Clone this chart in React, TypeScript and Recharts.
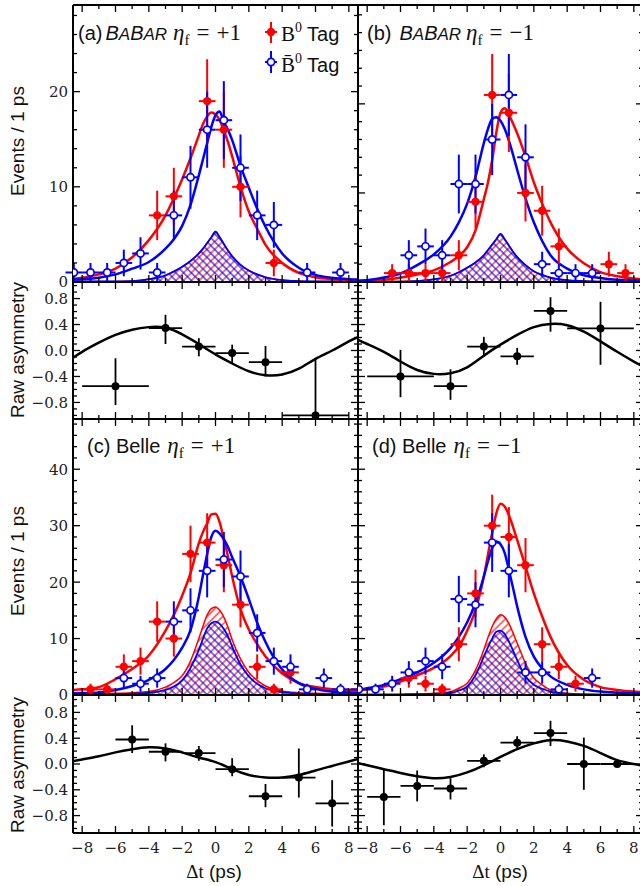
import React from 'react';
import { ComposedChart, Line, Area, Scatter, ErrorBar, XAxis, YAxis } from 'recharts';

// Δt axis (ps)
const X_DOMAIN: [number, number] = [-8.55, 8.55];
const X_TICKS = [-8, -7, -6, -5, -4, -3, -2, -1, 0, 1, 2, 3, 4, 5, 6, 7, 8];
const X_LABELS = [-8, -6, -4, -2, 0, 2, 4, 6, 8];

// y axes
const EV_TICKS_TOP = [0, 2, 4, 6, 8, 10, 12, 14, 16, 18, 20, 22, 24, 26, 28, 30];
const EV_LABELS_TOP = [0, 10, 20];
const EV_TICKS_BOT = [0, 2, 4, 6, 8, 10, 12, 14, 16, 18, 20, 22, 24, 26, 28, 30, 32, 34, 36, 38, 40, 42, 44, 46, 48];
const EV_LABELS_BOT = [0, 10, 20, 30, 40];
const ASYM_TICKS = [-1, -0.9, -0.8, -0.7, -0.6, -0.5, -0.4, -0.3, -0.2, -0.1, 0, 0.1, 0.2, 0.3, 0.4, 0.5, 0.6, 0.7, 0.8, 0.9, 1];
const ASYM_LABELS = [-0.8, -0.4, 0, 0.4, 0.8];

// x grids for the fitted curves
const GRID = [-8.6, -8, -7, -6, -5, -4, -3, -2.5, -2, -1.5, -1, -0.75, -0.5, -0.25, 0, 0.25, 0.5, 0.75, 1, 1.5, 2, 2.5, 3, 4, 5, 6, 7, 8, 8.6];
const BKG_GRID = [-8.6, -6, -5, -4, -3, -2.5, -2, -1.5, -1, -0.75, -0.5, -0.25, 0, 0.25, 0.5, 0.75, 1, 1.5, 2, 2.5, 3, 4, 5, 6, 8.6];
const ASYM_GRID = [-8.6, -8, -7, -6, -5, -4, -3, -2, -1, 0, 1, 2, 3, 4, 5, 6, 7, 8, 8.6];

// statistical error read per bin content
const ERR: Record<number, number> = {
  1: 1.0, 2: 1.4, 3: 1.7, 4: 2.0, 5: 2.2, 6: 2.4, 7: 2.6, 8: 2.8, 9: 3.0, 10: 3.2, 11: 3.3, 12: 3.5,
  13: 3.6, 14: 3.7, 15: 3.9, 16: 4.0, 17: 4.1, 18: 4.2, 19: 4.4, 21: 4.6, 22: 4.7, 23: 4.8, 24: 4.9,
  25: 5.0, 27: 5.2, 28: 5.3, 30: 5.5,
};

// (a) BABAR eta_f = +1
const aRedPts = [[-3.5, 7], [-2.5, 9], [-0.5, 19], [0.5, 16], [1.5, 10], [3.5, 2]];
const aBluePts = [[-8.5, 1], [-7.5, 1], [-6.5, 1], [-5.5, 2], [-4.5, 3], [-3.5, 1], [-2.5, 7], [-1.5, 11], [-0.5, 16], [0.5, 17], [1.5, 12], [2.5, 7], [3.5, 6], [5.5, 1], [7.5, 1]];
const aRedFit = [0.3, 0.45, 0.8, 1.4, 2.6, 4.4, 7.0, 8.8, 10.8, 13.0, 15.4, 16.6, 17.4, 17.8, 17.6, 17.0, 15.9, 14.7, 13.2, 10.0, 7.4, 5.6, 3.9, 2.0, 0.95, 0.5, 0.3, 0.2, 0.18];
const aBlueFit = [0.25, 0.3, 0.45, 0.8, 1.4, 2.1, 3.5, 4.5, 5.9, 8.1, 11.2, 12.9, 14.6, 16.3, 17.5, 17.9, 16.8, 16.0, 14.9, 12.2, 9.9, 7.7, 5.8, 3.0, 1.5, 0.75, 0.45, 0.3, 0.25];
const aBkg = [0.05, 0.05, 0.1, 0.3, 0.7, 1.1, 1.6, 2.2, 3.0, 3.5, 4.1, 4.7, 5.3, 4.7, 4.0, 3.3, 2.7, 1.8, 1.2, 0.8, 0.5, 0.2, 0.1, 0.05, 0.05];
const aAsymPts = [[-6, -0.55, 2, 0.29, 0.43], [-3, 0.345, 1, 0.245, 0.205], [-1, 0.06, 1, 0.15, 0.13], [1, -0.04, 1, 0.15, 0.13], [3, -0.18, 1, 0.22, 0.25], [6, -1.0, 2, 0, 0.86]];
const aAsymFit = [-0.12, -0.02, 0.12, 0.24, 0.32, 0.36, 0.35, 0.25, 0.1, -0.06, -0.2, -0.32, -0.38, -0.37, -0.28, -0.13, 0.0, 0.14, 0.21];

// (b) BABAR eta_f = -1
const bRedPts = [[-6.5, 1], [-5.5, 1], [-4.5, 1], [-3.5, 1], [-2.5, 3], [-1.5, 9], [-0.5, 21], [0.5, 19], [1.5, 10], [2.5, 8], [3.5, 4], [6.5, 2], [7.5, 1]];
const bBluePts = [[-5.5, 3], [-4.5, 4], [-3.5, 3], [-2.5, 11], [-1.5, 11], [-0.5, 16], [0.5, 21], [1.5, 14], [2.5, 2], [3.5, 1], [4.5, 1], [5.5, 1]];
const bRedFit = [0.1, 0.2, 0.25, 0.5, 0.85, 1.3, 2.25, 2.9, 3.9, 5.8, 9.3, 11.2, 13.7, 16.8, 19.0, 19.5, 18.8, 17.8, 16.7, 14.1, 11.2, 8.8, 6.7, 3.75, 2.1, 1.1, 0.65, 0.4, 0.25];
const bBlueFit = [0.15, 0.2, 0.5, 0.95, 1.9, 3.1, 5.1, 6.7, 8.8, 11.8, 15.6, 17.2, 18.3, 18.5, 18.1, 17.2, 15.9, 14.3, 12.6, 9.4, 6.7, 4.6, 3.0, 1.5, 0.75, 0.45, 0.25, 0.2, 0.15];
const bBkg = [0.05, 0.05, 0.1, 0.3, 0.7, 1.1, 1.6, 2.2, 3.0, 3.6, 4.2, 4.8, 5.4, 4.8, 4.1, 3.4, 2.8, 1.9, 1.2, 0.8, 0.5, 0.2, 0.1, 0.05, 0.05];
const bAsymPts = [[-6, -0.4, 2, 0.32, 0.41], [-3, -0.55, 1, 0.21, 0.26], [-1, 0.06, 1, 0.16, 0.15], [1, -0.09, 1, 0.13, 0.13], [3, 0.61, 1, 0.32, 0.21], [6, 0.34, 2, 0.56, 0.41]];
const bAsymFit = [0.17, 0.1, -0.02, -0.17, -0.3, -0.36, -0.35, -0.26, -0.08, 0.09, 0.24, 0.36, 0.41, 0.39, 0.29, 0.14, -0.02, -0.17, -0.25];

// (c) Belle eta_f = +1
const cRedPts = [[-7.5, 1], [-6.5, 1], [-5.5, 5], [-4.5, 6], [-3.5, 13], [-2.5, 10], [-1.5, 25], [-0.5, 27], [0.5, 23], [1.5, 16], [2.5, 5], [3.5, 1], [4.5, 4]];
const cBluePts = [[-5.5, 3], [-4.5, 2], [-3.5, 3], [-2.5, 13], [-1.5, 15], [-0.5, 22], [0.5, 24], [1.5, 21], [2.5, 11], [3.5, 6], [4.5, 5], [5.5, 1], [6.5, 3], [7.5, 1]];
const cRedFit = [0.9, 1.0, 1.4, 2.8, 4.6, 7.0, 11.4, 14.2, 17.6, 21.6, 26.9, 28.9, 30.4, 32.0, 32.1, 30.6, 27.6, 24.5, 21.0, 15.2, 11.6, 9.0, 6.8, 3.8, 2.1, 1.4, 1.0, 0.85, 0.8];
const cBlueFit = [0.3, 0.35, 0.45, 0.9, 1.6, 2.7, 4.6, 6.2, 8.4, 11.5, 17.4, 21.3, 25.0, 28.0, 29.1, 28.6, 27.6, 26.2, 24.4, 21.0, 17.0, 12.8, 9.4, 4.5, 2.1, 1.1, 0.6, 0.45, 0.4];
const cRedBkg = [0.2, 0.3, 0.4, 0.6, 1.4, 2.2, 3.4, 6.0, 10.0, 12.2, 14.2, 15.3, 15.6, 15.0, 13.8, 12.0, 9.8, 6.4, 4.0, 2.6, 1.6, 0.7, 0.4, 0.3, 0.2];
const cBlueBkg = [0.1, 0.15, 0.25, 0.4, 0.9, 1.5, 2.6, 4.8, 8.0, 10.0, 11.8, 12.7, 13.0, 12.6, 11.7, 10.4, 8.6, 5.4, 3.3, 2.0, 1.2, 0.5, 0.25, 0.15, 0.1];
const cAsymPts = [[-5, 0.38, 1, 0.21, 0.22], [-3, 0.19, 1, 0.15, 0.13], [-1, 0.17, 1, 0.12, 0.11], [1, -0.08, 1, 0.11, 0.17], [3, -0.5, 1, 0.17, 0.19], [5, -0.21, 1, 0.31, 0.45], [7, -0.61, 1, 0.36, 0.36]];
const cAsymFit = [0.04, 0.07, 0.12, 0.18, 0.23, 0.26, 0.24, 0.18, 0.1, 0.03, -0.08, -0.17, -0.21, -0.21, -0.17, -0.1, -0.03, 0.04, 0.08];

// (d) Belle eta_f = -1
const dRedPts = [[-8.5, 1], [-5.5, 3], [-4.5, 2], [-3.5, 1], [-2.5, 9], [-1.5, 18], [-0.5, 30], [0.5, 28], [1.5, 23], [2.5, 9], [3.5, 5], [4.5, 2]];
const dBluePts = [[-8.5, 1], [-7.5, 1], [-6.5, 2], [-5.5, 4], [-4.5, 6], [-3.5, 5], [-2.5, 17], [-1.5, 16], [-0.5, 27], [0.5, 22], [1.5, 4], [2.5, 4], [3.5, 1], [5.5, 3]];
const dRedFit = [0.9, 1.0, 1.5, 2.4, 3.5, 4.8, 6.9, 8.6, 11.4, 15.1, 21.0, 24.9, 28.7, 32.2, 33.9, 33.4, 31.9, 29.8, 27.5, 22.8, 18.0, 13.9, 10.3, 5.3, 2.7, 1.4, 0.9, 0.6, 0.5];
const dBlueFit = [0.9, 1.2, 1.8, 2.8, 4.0, 5.7, 8.3, 10.3, 12.9, 16.3, 21.0, 23.7, 26.0, 27.2, 26.7, 25.2, 22.2, 19.0, 15.7, 10.3, 6.8, 4.7, 3.3, 1.8, 1.0, 0.6, 0.4, 0.3, 0.25];
const dRedBkg = [0.1, 0.15, 0.2, 0.3, 0.6, 1.2, 2.1, 4.4, 8.0, 10.2, 12.1, 13.5, 14.2, 13.8, 12.7, 11.0, 9.2, 5.6, 3.0, 1.8, 0.9, 0.3, 0.15, 0.1, 0.1];
const dBlueBkg = [0.05, 0.08, 0.1, 0.2, 0.4, 0.8, 1.5, 3.5, 6.8, 8.5, 10.0, 11.2, 11.4, 10.8, 9.5, 7.9, 6.2, 3.3, 1.8, 1.1, 0.6, 0.2, 0.1, 0.08, 0.05];
const dAsymPts = [[-7, -0.51, 1, 0.44, 0.44], [-5, -0.34, 1, 0.24, 0.24], [-3, -0.38, 1, 0.17, 0.16], [-1, 0.05, 1, 0.1, 0.1], [1, 0.33, 1, 0.11, 0.1], [3, 0.48, 1, 0.2, 0.19], [5, 0.0, 1, 0.4, 0.41], [7, 0.0, 1, 0, 0]];
const dAsymFit = [0.02, -0.02, -0.08, -0.14, -0.19, -0.22, -0.2, -0.13, -0.02, 0.11, 0.23, 0.32, 0.37, 0.35, 0.28, 0.17, 0.06, 0.0, -0.03];

const RED = '#ff0000';
const BLUE = '#0000ff';
const SANS = "'Liberation Sans', Arial, sans-serif";
const SERIF = "'Liberation Serif', 'Times New Roman', serif";
const TICK_FONT = { fontFamily: "'DejaVu Serif', serif", fontSize: 15, fill: '#222' };

// outer space around each plot box; axes take 1px each so the box lands on (x, y)
const PAD = { top: 20, right: 20, bottom: 50, left: 80 };
const M = { top: PAD.top - 1, right: PAD.right - 1, bottom: PAD.bottom - 1, left: PAD.left - 1 };
const AXIS_LINE = { stroke: '#000', strokeWidth: 2 };

const zipXY = (xs: number[], ys: number[]) => xs.map((x, i) => ({ x, y: ys[i] }));
const toPts = (arr: number[][]) => arr.map(([x, n]) => ({ x, y: n, ex: 0.5, ey: ERR[n] }));
const toAsym = (arr: number[][]) => arr.map(([x, y, ex, lo, hi]) => ({ x, y, ex, ey: [lo, hi] }));

const fmtInt = (v: number) => (v < 0 ? '\u2212' + Math.abs(v) : String(v));
const fmtAsym = (v: number) => (v < -1e-9 ? '\u2212' : '') + Math.abs(v).toFixed(1);

function makeTick(side: string, majors: number[], fmt: ((v: number) => string) | null) {
  return (props: any) => {
    const { x, y, payload } = props;
    const v = payload.value;
    const major = majors.some((m) => Math.abs(m - v) < 1e-6);
    const len = major ? 7 : 4;
    const d = side === 'left' ? [len, 0] : side === 'right' ? [-len, 0] : side === 'top' ? [0, len] : [0, -len];
    return (
      <g>
        <line x1={x} y1={y} x2={x + d[0]} y2={y + d[1]} stroke="#000" strokeWidth={1.3} />
        {fmt && major && side === 'left' && (
          <text x={x - 5} y={y} dy="0.36em" textAnchor="end" style={TICK_FONT}>{fmt(v)}</text>
        )}
        {fmt && major && side === 'bottom' && (
          <text x={x} y={y + 20} textAnchor="middle" style={TICK_FONT}>{fmt(v)}</text>
        )}
      </g>
    );
  };
}

function Panel({ x, y, w, h, yDomain, yTicks, yMajors, yFmt, xFmt, children }: any) {
  return (
    <div style={{ position: 'absolute', left: x - PAD.left, top: y - PAD.top }}>
      <ComposedChart width={w + PAD.left + PAD.right} height={h + PAD.top + PAD.bottom} margin={M}>
        <XAxis xAxisId="b" orientation="bottom" type="number" dataKey="x" domain={X_DOMAIN} ticks={X_TICKS}
          interval={0} allowDataOverflow height={1} tickSize={0} tickMargin={0} tickLine={false}
          axisLine={AXIS_LINE} tick={makeTick('bottom', X_LABELS, xFmt)} />
        <XAxis xAxisId="t" orientation="top" type="number" dataKey="x" domain={X_DOMAIN} ticks={X_TICKS}
          interval={0} allowDataOverflow height={1} tickSize={0} tickMargin={0} tickLine={false}
          axisLine={AXIS_LINE} tick={makeTick('top', X_LABELS, null)} />
        <YAxis yAxisId="l" orientation="left" type="number" dataKey="y" domain={yDomain} ticks={yTicks}
          interval={0} allowDataOverflow width={1} tickSize={0} tickMargin={0} tickLine={false}
          axisLine={AXIS_LINE} tick={makeTick('left', yMajors, yFmt)} />
        <YAxis yAxisId="r" orientation="right" type="number" dataKey="y" domain={yDomain} ticks={yTicks}
          interval={0} allowDataOverflow width={1} tickSize={0} tickMargin={0} tickLine={false}
          axisLine={AXIS_LINE} tick={makeTick('right', yMajors, null)} />
        {children}
      </ComposedChart>
    </div>
  );
}

const redDot = (p: any) => <circle cx={p.cx} cy={p.cy} r={4.2} fill={RED} />;
const blueDot = (p: any) => <circle cx={p.cx} cy={p.cy} r={3.6} fill="#fff" stroke={BLUE} strokeWidth={1.7} />;
const blackDot = (p: any) => <circle cx={p.cx} cy={p.cy} r={4} fill="#000" />;

function hatchDefs(id: string) {
  return (
    <defs key="defs">
      <pattern id={`hr-${id}`} patternUnits="userSpaceOnUse" width={5.5} height={5.5} patternTransform="rotate(45)">
        <line x1={2.75} y1={0} x2={2.75} y2={5.5} stroke={RED} strokeWidth={1.1} />
      </pattern>
      <pattern id={`hb-${id}`} patternUnits="userSpaceOnUse" width={5.5} height={5.5} patternTransform="rotate(-45)">
        <line x1={2.75} y1={0} x2={2.75} y2={5.5} stroke={BLUE} strokeWidth={1.1} />
      </pattern>
    </defs>
  );
}

function eventSeries(id: string, redPts: number[][], bluePts: number[][], redFit: number[], blueFit: number[], redBkg: number[], blueBkg: number[]) {
  return [
    hatchDefs(id),
    <Area key="rb" data={zipXY(BKG_GRID, redBkg)} dataKey="y" xAxisId="b" yAxisId="l" type="monotone"
      stroke={RED} strokeWidth={1.5} fill={`url(#hr-${id})`} fillOpacity={1} isAnimationActive={false} dot={false} activeDot={false} />,
    <Area key="bb" data={zipXY(BKG_GRID, blueBkg)} dataKey="y" xAxisId="b" yAxisId="l" type="monotone"
      stroke={BLUE} strokeWidth={1.8} fill={`url(#hb-${id})`} fillOpacity={1} isAnimationActive={false} dot={false} activeDot={false} />,
    <Line key="rf" data={zipXY(GRID, redFit)} dataKey="y" xAxisId="b" yAxisId="l" type="monotone"
      stroke={RED} strokeWidth={2.5} dot={false} activeDot={false} isAnimationActive={false} />,
    <Line key="bf" data={zipXY(GRID, blueFit)} dataKey="y" xAxisId="b" yAxisId="l" type="monotone"
      stroke={BLUE} strokeWidth={2.5} dot={false} activeDot={false} isAnimationActive={false} />,
    <Scatter key="rp" data={toPts(redPts)} dataKey="y" xAxisId="b" yAxisId="l" shape={redDot} isAnimationActive={false}>
      <ErrorBar dataKey="ex" direction="x" stroke={RED} strokeWidth={2} width={0} />
      <ErrorBar dataKey="ey" direction="y" stroke={RED} strokeWidth={2} width={0} />
    </Scatter>,
    <Scatter key="bp" data={toPts(bluePts)} dataKey="y" xAxisId="b" yAxisId="l" shape={blueDot} isAnimationActive={false}>
      <ErrorBar dataKey="ex" direction="x" stroke={BLUE} strokeWidth={2} width={0} />
      <ErrorBar dataKey="ey" direction="y" stroke={BLUE} strokeWidth={2} width={0} />
    </Scatter>,
  ];
}

function asymSeries(pts: number[][], fit: number[]) {
  return [
    <Line key="af" data={zipXY(ASYM_GRID, fit)} dataKey="y" xAxisId="b" yAxisId="l" type="natural"
      stroke="#000" strokeWidth={2.5} dot={false} activeDot={false} isAnimationActive={false} />,
    <Scatter key="ap" data={toAsym(pts)} dataKey="y" xAxisId="b" yAxisId="l" shape={blackDot} isAnimationActive={false}>
      <ErrorBar dataKey="ex" direction="x" stroke="#000" strokeWidth={1.8} width={0} />
      <ErrorBar dataKey="ey" direction="y" stroke="#000" strokeWidth={1.8} width={0} />
    </Scatter>,
  ];
}

const L = 73;
const R = 358;
const W = 285;

function Math1({ sign, gap }: { sign: string; gap: number }) {
  return (
    <>
      <tspan fontFamily={SERIF} fontStyle="italic" fontSize={23} dx={gap}>η</tspan>
      <tspan fontFamily={SERIF} fontSize={15} dy={5}>f</tspan>
      <tspan fontFamily={SERIF} fontSize={23} dy={-5} dx={7}>=</tspan>
      <tspan fontFamily={SERIF} fontSize={23} dx={7}>{sign}1</tspan>
    </>
  );
}

function Babar() {
  return (
    <>
      B<tspan fontSize={17}>A</tspan>B<tspan fontSize={17}>AR</tspan>
    </>
  );
}

export default function App() {
  return (
    <div style={{ position: 'absolute', left: 0, top: 0, width: 640, height: 886, overflow: 'hidden', background: '#fff' }}>
      <Panel x={L} y={5} w={W} h={277} yDomain={[0, 29.1]} yTicks={EV_TICKS_TOP} yMajors={EV_LABELS_TOP} yFmt={fmtInt} xFmt={null}>
        {eventSeries('a', aRedPts, aBluePts, aRedFit, aBlueFit, aBkg, aBkg)}
      </Panel>
      <Panel x={R} y={5} w={W} h={277} yDomain={[0, 31.1]} yTicks={EV_TICKS_TOP} yMajors={EV_LABELS_TOP} yFmt={null} xFmt={null}>
        {eventSeries('b', bRedPts, bBluePts, bRedFit, bBlueFit, bBkg, bBkg)}
      </Panel>
      <Panel x={L} y={282} w={W} h={137} yDomain={[-1.055, 1.055]} yTicks={ASYM_TICKS} yMajors={ASYM_LABELS} yFmt={fmtAsym} xFmt={null}>
        {asymSeries(aAsymPts, aAsymFit)}
      </Panel>
      <Panel x={R} y={282} w={W} h={137} yDomain={[-1.055, 1.055]} yTicks={ASYM_TICKS} yMajors={ASYM_LABELS} yFmt={null} xFmt={null}>
        {asymSeries(bAsymPts, bAsymFit)}
      </Panel>
      <Panel x={L} y={419} w={W} h={276} yDomain={[0, 48.9]} yTicks={EV_TICKS_BOT} yMajors={EV_LABELS_BOT} yFmt={fmtInt} xFmt={null}>
        {eventSeries('c', cRedPts, cBluePts, cRedFit, cBlueFit, cRedBkg, cBlueBkg)}
      </Panel>
      <Panel x={R} y={419} w={W} h={276} yDomain={[0, 48.9]} yTicks={EV_TICKS_BOT} yMajors={EV_LABELS_BOT} yFmt={null} xFmt={null}>
        {eventSeries('d', dRedPts, dBluePts, dRedFit, dBlueFit, dRedBkg, dBlueBkg)}
      </Panel>
      <Panel x={L} y={695} w={W} h={138} yDomain={[-1.07, 1.07]} yTicks={ASYM_TICKS} yMajors={ASYM_LABELS} yFmt={fmtAsym} xFmt={fmtInt}>
        {asymSeries(cAsymPts, cAsymFit)}
      </Panel>
      <Panel x={R} y={695} w={W} h={138} yDomain={[-1.07, 1.07]} yTicks={ASYM_TICKS} yMajors={ASYM_LABELS} yFmt={null} xFmt={fmtInt}>
        {asymSeries(dAsymPts, dAsymFit)}
      </Panel>

      <svg width={640} height={886} style={{ position: 'absolute', left: 0, top: 0, pointerEvents: 'none' }}>
        {/* axis titles */}
        <g fontFamily={SANS} fontSize={19} fill="#111" textAnchor="middle">
          <text transform="translate(24,141) rotate(-90)">Events / 1 ps</text>
          <text transform="translate(24,561) rotate(-90)">Events / 1 ps</text>
          <text transform="translate(24,350) rotate(-90)">Raw asymmetry</text>
          <text transform="translate(24,765) rotate(-90)">Raw asymmetry</text>
          <text x={214} y={878}><tspan fontFamily={SERIF}>Δt</tspan> (ps)</text>
          <text x={500} y={878}><tspan fontFamily={SERIF}>Δt</tspan> (ps)</text>
        </g>

        {/* panel labels */}
        <g fontFamily={SANS} fontSize={20} fill="#111">
          <text x={78} y={40}>
            (a)<tspan dx={3} fontStyle="italic"><Babar /></tspan>
            <Math1 sign="+" gap={6} />
          </text>
          <text x={367} y={40}>
            (b)<tspan dx={8} fontStyle="italic"><Babar /></tspan>
            <Math1 sign={'\u2212'} gap={5} />
          </text>
          <text x={87} y={453}>
            (c) Belle<Math1 sign="+" gap={7} />
          </text>
          <text x={372} y={453}>
            (d) Belle<Math1 sign={'\u2212'} gap={7} />
          </text>
        </g>

        {/* legend */}
        <g>
          <line x1={271} y1={22} x2={271} y2={43} stroke={RED} strokeWidth={2} />
          <line x1={265} y1={32} x2={277} y2={32} stroke={RED} strokeWidth={2} />
          <circle cx={271} cy={32} r={4.2} fill={RED} />
          <line x1={271} y1={51} x2={271} y2={73} stroke={BLUE} strokeWidth={2} />
          <line x1={265} y1={62} x2={277} y2={62} stroke={BLUE} strokeWidth={2} />
          <circle cx={271} cy={62} r={3.6} fill="#fff" stroke={BLUE} strokeWidth={1.7} />
          <text x={281} y={41} fontSize={21} fill="#111">
            <tspan fontFamily={SERIF}>B</tspan>
            <tspan fontFamily={SERIF} fontSize={14} dy={-9}>0</tspan>
            <tspan fontFamily={SANS} fontSize={20} dy={9} dx={5}>Tag</tspan>
          </text>
          <text x={281} y={72} fontSize={21} fill="#111">
            <tspan fontFamily={SERIF}>{'B\u0304'}</tspan>
            <tspan fontFamily={SERIF} fontSize={14} dy={-9}>0</tspan>
            <tspan fontFamily={SANS} fontSize={20} dy={9} dx={5}>Tag</tspan>
          </text>
        </g>
      </svg>
    </div>
  );
}
